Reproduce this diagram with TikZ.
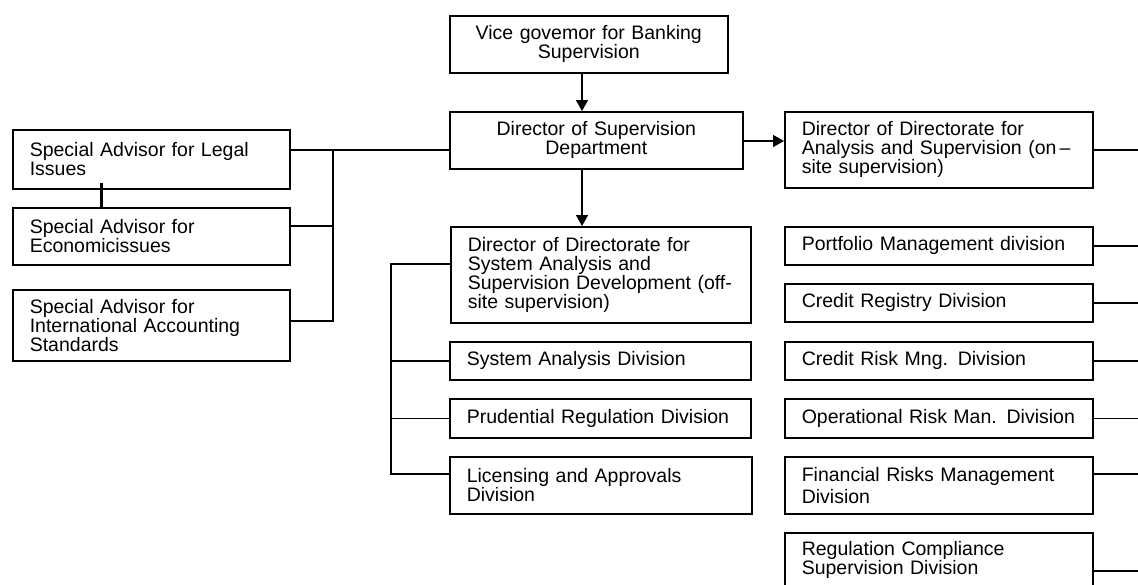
\documentclass[tikz,border=0pt]{standalone}
\usepackage{fontspec}
\setmainfont{Liberation Sans}
\usetikzlibrary{arrows.meta}
\begin{document}
\begin{tikzpicture}[x=1pt,y=-1pt,
  bx/.style={draw, line width=1.6pt, anchor=north west, align=left,
    inner xsep=17pt, inner ysep=0pt,
    font=\fontsize{19.5}{19}\selectfont},
  cbx/.style={bx, align=center},
  ln/.style={line width=1.4pt},
  arr/.style={ln, -{Triangle[length=11pt,width=12pt]}}]
\useasboundingbox (0,0) rectangle (1138,584);
\clip (0,0) rectangle (1138,584);
% top
\node[cbx, minimum width=278pt, minimum height=57pt, text width=244pt] (vice) at (449,15)
  {Vice govemor for Banking\\Supervision};
\node[cbx, minimum width=293pt, minimum height=57pt, text width=259pt] (dsd) at (449,111)
  {Director of Supervision\\Department};
% left advisors
\node[bx, minimum height=59pt, text width=243pt] (legal) at (12,129)
  {Special Advisor for Legal\\Issues};
\node[bx, minimum height=57pt, text width=243pt] (econ) at (12,207)
  {Special Advisor for\\Economicissues};
\node[bx, minimum height=71pt, text width=243pt] (intl) at (12,289)
  {Special Advisor for\\International Accounting\\Standards};
% off-site column
\node[bx, minimum height=96pt, text width=266pt] (off) at (450,226)
  {Director of Directorate for\\System Analysis and\\Supervision Development (off-\\site supervision)};
\node[bx, minimum height=38pt, text width=267pt] (sys) at (449,341)
  {System Analysis Division};
\node[bx, minimum height=39pt, text width=267pt] (prud) at (449,398)
  {Prudential Regulation Division};
\node[bx, minimum height=57pt, text width=268pt] (lic) at (449,456)
  {Licensing and Approvals\\Division};
% on-site column
\node[bx, minimum height=76pt, text width=274pt] (ana) at (784,111)
  {Director of Directorate for\\Analysis and Supervision (on\,–\\site supervision)};
\node[bx, minimum height=38pt, text width=274pt] (port) at (784,226)
  {Portfolio Management division};
\node[bx, minimum height=38pt, text width=274pt] (creg) at (784,283)
  {Credit Registry Division};
\node[bx, minimum height=38pt, text width=274pt] (crm) at (784,341)
  {Credit Risk Mng. Division};
\node[bx, minimum height=39pt, text width=274pt] (opr) at (784,398)
  {Operational Risk Man. Division};
\node[bx, minimum height=57pt, text width=274pt] (fin) at (784,456)
  {Financial Risks Management\\[3pt]Division};
\node[bx, minimum height=54pt, text width=274pt] (rcs) at (784,532)
  {Regulation Compliance\\Supervision Division};
% helper coordinates
\coordinate (ax) at (582,0);
\coordinate (ay) at (0,141);
\coordinate (lb1) at (333,150);
\coordinate (lb2) at (333,321);
\coordinate (ey) at (0,226);
\coordinate (ob1) at (391,264);
\coordinate (ob2) at (391,474);
\coordinate (edge) at (1138,0);
\coordinate (finy) at (0,474);
\coordinate (rcsy) at (0,571);
\coordinate (anay) at (0,150);
\coordinate (tk) at (101,0);
% arrows
\draw[arr] (vice.south -| ax) -- (dsd.north -| ax);
\draw[arr] (dsd.south -| ax) -- (off.north -| ax);
\draw[arr] (dsd.east |- ay) -- (ana.west |- ay);
% left bus
\draw[ln] (legal.east |- lb1) -- (dsd.west |- lb1);
\draw[ln] (lb1) -- (lb2) -- (intl.east |- lb2);
\draw[ln] (econ.east |- ey) -- (lb1 |- ey);
\draw[line width=3pt] ([yshift=7pt]legal.south -| tk) -- (econ.north -| tk);
% off-site bus
\draw[ln] (off.west |- ob1) -- (ob1) -- (ob2) -- (lic.west |- ob2);
\draw[ln] (sys.west) -- (sys.west -| ob1);
\draw[ln] (prud.west) -- (prud.west -| ob1);
% right stubs
\draw[ln] (ana.east |- anay) -- (edge |- anay);
\draw[ln] (port.east) -- (port.east -| edge);
\draw[ln] (creg.east) -- (creg.east -| edge);
\draw[ln] (crm.east) -- (crm.east -| edge);
\draw[ln] (opr.east) -- (opr.east -| edge);
\draw[ln] (fin.east |- finy) -- (edge |- finy);
\draw[ln] (rcs.east |- rcsy) -- (edge |- rcsy);
\end{tikzpicture}
\end{document}
